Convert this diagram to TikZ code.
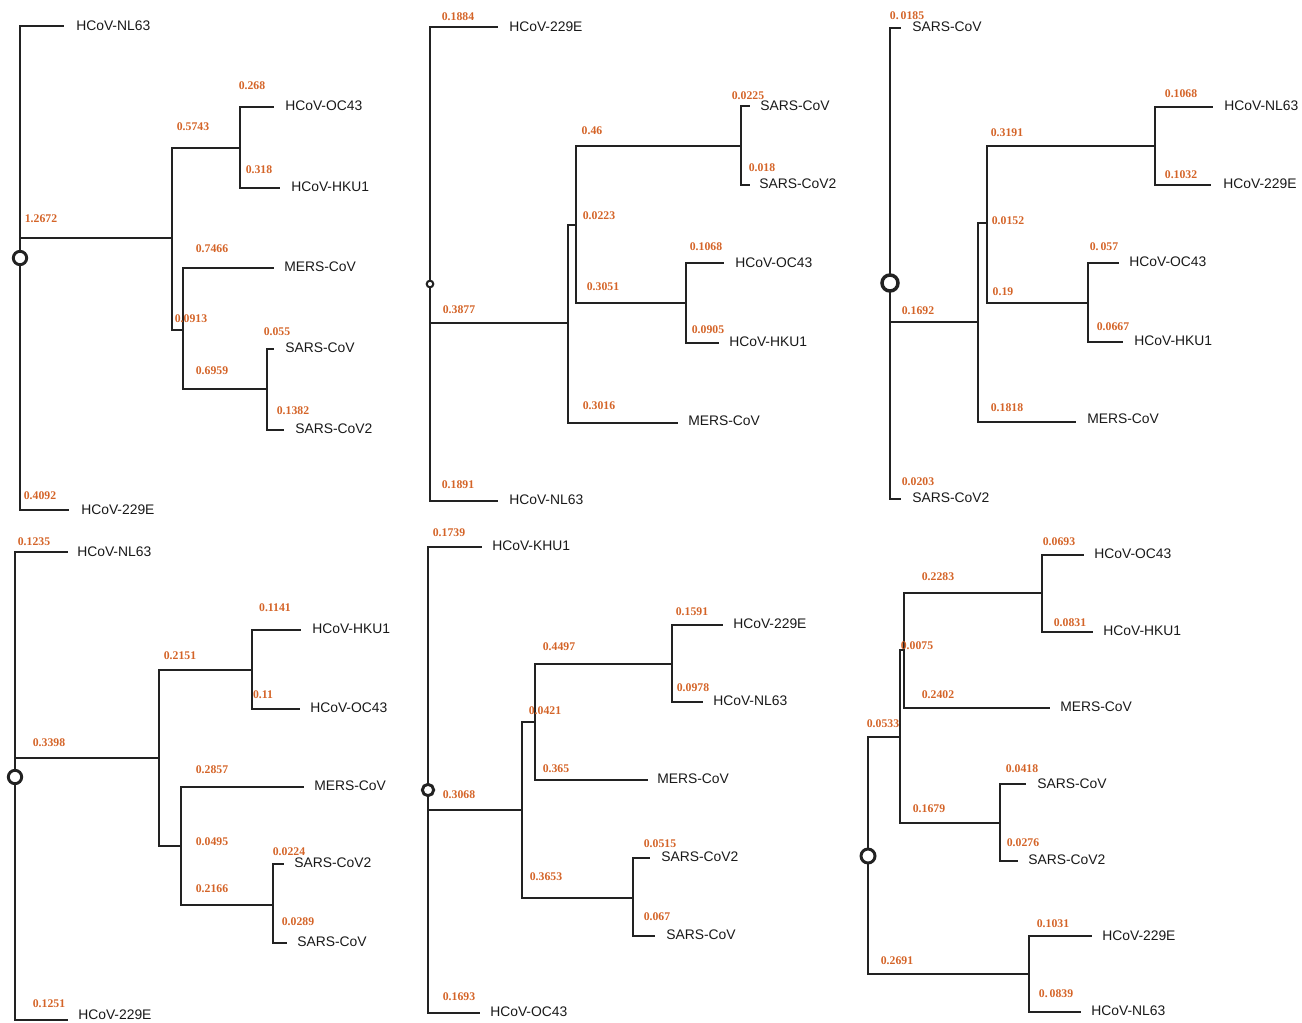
\documentclass[tikz,border=0pt]{standalone}
\usepackage{fontspec}
\newfontfamily\labfont{Liberation Sans}
\newfontfamily\numfont{Liberation Serif}
\definecolor{numc}{RGB}{212,100,40}
\definecolor{linec}{RGB}{34,34,34}
\begin{document}
\begin{tikzpicture}[x=0.75pt,y=-0.75pt,
  br/.style={draw=linec,line width=2.2pt,line cap=rect},
  tiplab/.style={anchor=west,inner sep=0pt,text=black!90,font=\labfont\fontsize{10.4}{12}\selectfont},
  num/.style={inner sep=0pt,text=numc,font=\numfont\bfseries\fontsize{8.8}{10}\selectfont},
  rootc/.style={draw=linec,fill=white,ellipse,inner sep=0pt,line width=2.2pt}]
\useasboundingbox (0,0) rectangle (1302,1023);
\pgfdeclareshape{ellipse}{\inheritsavedanchors[from=circle]\inheritanchorborder[from=circle]\inheritanchor[from=circle]{center}\inheritbackgroundpath[from=circle]}
% ================= Panel 1 =================
\coordinate (R1) at (20,258);
\coordinate (t1a) at (63,26);
\coordinate (t1b) at (68,510);
\coordinate (A1) at (172,238);
\coordinate (B1) at (240,148);
\coordinate (C1) at (183,330);
\coordinate (D1) at (267,389);
\coordinate (t1c) at (273,107);
\coordinate (t1d) at (279,188);
\coordinate (t1e) at (273,268);
\coordinate (t1f) at (273,349);
\coordinate (t1g) at (283,430);
\draw[br] (R1) |- (t1a);
\draw[br] (R1) |- (t1b);
\draw[br] (R1) |- (A1);
\draw[br] (A1) |- (B1);
\draw[br] (A1) |- (C1);
\draw[br] (B1) |- (t1c);
\draw[br] (B1) |- (t1d);
\draw[br] (C1) |- (t1e);
\draw[br] (C1) |- (D1);
\draw[br] (D1) |- (t1f);
\draw[br] (D1) |- (t1g);
\node[rootc,minimum size=10pt,circle] (c1) at (R1) {};
\node[tiplab] (l1a) at (76,26) {HCoV-NL63};
\node[tiplab] (l1b) at (81,510) {HCoV-229E};
\node[tiplab] (l1c) at (285,106) {HCoV-OC43};
\node[tiplab] (l1d) at (291,187) {HCoV-HKU1};
\node[tiplab] (l1e) at (284,267) {MERS-CoV};
\node[tiplab] (l1f) at (285,348) {SARS-CoV};
\node[tiplab] (l1g) at (295,429) {SARS-CoV2};
\node[num] (n1a) at (252,86) {0.268};
\node[num] (n1b) at (193,127) {0.5743};
\node[num] (n1c) at (259,170) {0.318};
\node[num] (n1d) at (41,219) {1.2672};
\node[num] (n1e) at (212,249) {0.7466};
\node[num] (n1f) at (191,319) {0.0913};
\node[num] (n1g) at (277,332) {0.055};
\node[num] (n1h) at (212,371) {0.6959};
\node[num] (n1i) at (293,411) {0.1382};
\node[num] (n1j) at (40,496) {0.4092};
% ================= Panel 2 =================
\coordinate (R2) at (430,284);
\coordinate (t2a) at (497,27);
\coordinate (t2b) at (497,501);
\coordinate (A2) at (568,323);
\coordinate (B2) at (576,225);
\coordinate (C2) at (741,146);
\coordinate (D2) at (686,303);
\coordinate (t2c) at (749,106);
\coordinate (t2d) at (749,185);
\coordinate (t2e) at (723,263);
\coordinate (t2f) at (718,343);
\coordinate (t2g) at (677,423);
\draw[br] (R2) |- (t2a);
\draw[br] (R2) |- (t2b);
\draw[br] (R2) |- (A2);
\draw[br] (A2) |- (B2);
\draw[br] (A2) |- (t2g);
\draw[br] (B2) |- (C2);
\draw[br] (B2) |- (D2);
\draw[br] (C2) |- (t2c);
\draw[br] (C2) |- (t2d);
\draw[br] (D2) |- (t2e);
\draw[br] (D2) |- (t2f);
\node[rootc,minimum size=5pt,circle,line width=1.5pt] (c2) at (R2) {};
\node[tiplab] (l2a) at (509,27) {HCoV-229E};
\node[tiplab] (l2b) at (509,500) {HCoV-NL63};
\node[tiplab] (l2c) at (760,106) {SARS-CoV};
\node[tiplab] (l2d) at (759,184) {SARS-CoV2};
\node[tiplab] (l2e) at (735,263) {HCoV-OC43};
\node[tiplab] (l2f) at (729,342) {HCoV-HKU1};
\node[tiplab] (l2g) at (688,421) {MERS-CoV};
\node[num] (n2a) at (458,17) {0.1884};
\node[num] (n2b) at (459,310) {0.3877};
\node[num] (n2c) at (592,131) {0.46};
\node[num] (n2d) at (748,96) {0.0225};
\node[num] (n2e) at (762,168) {0.018};
\node[num] (n2f) at (599,216) {0.0223};
\node[num] (n2g) at (603,287) {0.3051};
\node[num] (n2h) at (706,247) {0.1068};
\node[num] (n2i) at (708,330) {0.0905};
\node[num] (n2j) at (599,406) {0.3016};
\node[num] (n2k) at (458,485) {0.1891};
% ================= Panel 3 =================
\coordinate (R3) at (890,283);
\coordinate (t3a) at (900,28);
\coordinate (t3b) at (900,499);
\coordinate (A3) at (978,322);
\coordinate (B3) at (987,223);
\coordinate (C3) at (1155,146);
\coordinate (D3) at (1088,303);
\coordinate (t3c) at (1212,107);
\coordinate (t3d) at (1210,185);
\coordinate (t3e) at (1118,263);
\coordinate (t3f) at (1122,342);
\coordinate (t3g) at (1075,422);
\draw[br] (R3) |- (t3a);
\draw[br] (R3) |- (t3b);
\draw[br] (R3) |- (A3);
\draw[br] (A3) |- (B3);
\draw[br] (A3) |- (t3g);
\draw[br] (B3) |- (C3);
\draw[br] (B3) |- (D3);
\draw[br] (C3) |- (t3c);
\draw[br] (C3) |- (t3d);
\draw[br] (D3) |- (t3e);
\draw[br] (D3) |- (t3f);
\node[rootc,minimum width=12pt,minimum height=9.5pt,line width=2.6pt] (c3) at (R3) {};
\node[tiplab] (l3a) at (912,27) {SARS-CoV};
\node[tiplab] (l3b) at (912,498) {SARS-CoV2};
\node[tiplab] (l3c) at (1224,106) {HCoV-NL63};
\node[tiplab] (l3d) at (1223,184) {HCoV-229E};
\node[tiplab] (l3e) at (1129,262) {HCoV-OC43};
\node[tiplab] (l3f) at (1134,341) {HCoV-HKU1};
\node[tiplab] (l3g) at (1087,419) {MERS-CoV};
\node[num] (n3a) at (907,16) {0.\,0185};
\node[num] (n3b) at (918,311) {0.1692};
\node[num] (n3c) at (1007,133) {0.3191};
\node[num] (n3d) at (1181,94) {0.1068};
\node[num] (n3e) at (1181,175) {0.1032};
\node[num] (n3f) at (1008,221) {0.0152};
\node[num] (n3g) at (1003,292) {0.19};
\node[num] (n3h) at (1104,247) {0.\,057};
\node[num] (n3i) at (1113,327) {0.0667};
\node[num] (n3j) at (1007,408) {0.1818};
\node[num] (n3k) at (918,482) {0.0203};
% ================= Panel 4 =================
\coordinate (R4) at (15,777);
\coordinate (t4a) at (67,552);
\coordinate (t4b) at (67,1020);
\coordinate (A4) at (159,758);
\coordinate (B4) at (252,670);
\coordinate (C4) at (181,846);
\coordinate (D4) at (273,905);
\coordinate (t4c) at (300,630);
\coordinate (t4d) at (299,709);
\coordinate (t4e) at (303,787);
\coordinate (t4f) at (283,864);
\coordinate (t4g) at (286,943);
\draw[br] (R4) |- (t4a);
\draw[br] (R4) |- (t4b);
\draw[br] (R4) |- (A4);
\draw[br] (A4) |- (B4);
\draw[br] (A4) |- (C4);
\draw[br] (B4) |- (t4c);
\draw[br] (B4) |- (t4d);
\draw[br] (C4) |- (t4e);
\draw[br] (C4) |- (D4);
\draw[br] (D4) |- (t4f);
\draw[br] (D4) |- (t4g);
\node[rootc,minimum size=10pt,circle] (c4) at (R4) {};
\node[tiplab] (l4a) at (77,552) {HCoV-NL63};
\node[tiplab] (l4b) at (78,1015) {HCoV-229E};
\node[tiplab] (l4c) at (312,629) {HCoV-HKU1};
\node[tiplab] (l4d) at (310,708) {HCoV-OC43};
\node[tiplab] (l4e) at (314,786) {MERS-CoV};
\node[tiplab] (l4f) at (294,863) {SARS-CoV2};
\node[tiplab] (l4g) at (297,942) {SARS-CoV};
\node[num] (n4a) at (34,542) {0.1235};
\node[num] (n4b) at (275,608) {0.1141};
\node[num] (n4c) at (180,656) {0.2151};
\node[num] (n4d) at (263,695) {0.11};
\node[num] (n4e) at (49,743) {0.3398};
\node[num] (n4f) at (212,770) {0.2857};
\node[num] (n4g) at (212,842) {0.0495};
\node[num] (n4h) at (289,852) {0.0224};
\node[num] (n4i) at (212,889) {0.2166};
\node[num] (n4j) at (298,922) {0.0289};
\node[num] (n4k) at (49,1004) {0.1251};
% ================= Panel 5 =================
\coordinate (R5) at (428,790);
\coordinate (t5a) at (481,547);
\coordinate (t5b) at (479,1013);
\coordinate (A5) at (522,810);
\coordinate (B5) at (535,722);
\coordinate (E5) at (672,664);
\coordinate (C5) at (633,898);
\coordinate (t5c) at (722,625);
\coordinate (t5d) at (702,702);
\coordinate (t5e) at (647,780);
\coordinate (t5f) at (649,858);
\coordinate (t5g) at (654,936);
\draw[br] (R5) |- (t5a);
\draw[br] (R5) |- (t5b);
\draw[br] (R5) |- (A5);
\draw[br] (A5) |- (B5);
\draw[br] (A5) |- (C5);
\draw[br] (B5) |- (E5);
\draw[br] (B5) |- (t5e);
\draw[br] (E5) |- (t5c);
\draw[br] (E5) |- (t5d);
\draw[br] (C5) |- (t5f);
\draw[br] (C5) |- (t5g);
\node[rootc,minimum size=8.5pt,circle] (c5) at (R5) {};
\node[tiplab] (l5a) at (492,546) {HCoV-KHU1};
\node[tiplab] (l5b) at (490,1012) {HCoV-OC43};
\node[tiplab] (l5c) at (733,624) {HCoV-229E};
\node[tiplab] (l5d) at (713,701) {HCoV-NL63};
\node[tiplab] (l5e) at (657,779) {MERS-CoV};
\node[tiplab] (l5f) at (661,857) {SARS-CoV2};
\node[tiplab] (l5g) at (666,935) {SARS-CoV};
\node[num] (n5a) at (449,533) {0.1739};
\node[num] (n5b) at (692,612) {0.1591};
\node[num] (n5c) at (559,647) {0.4497};
\node[num] (n5d) at (693,688) {0.0978};
\node[num] (n5e) at (545,711) {0.0421};
\node[num] (n5f) at (556,769) {0.365};
\node[num] (n5g) at (459,795) {0.3068};
\node[num] (n5h) at (660,844) {0.0515};
\node[num] (n5i) at (546,877) {0.3653};
\node[num] (n5j) at (657,917) {0.067};
\node[num] (n5k) at (459,997) {0.1693};
% ================= Panel 6 =================
\coordinate (R6) at (868,856);
\coordinate (A6) at (900,737);
\coordinate (B6) at (904,650);
\coordinate (E6) at (1042,593);
\coordinate (C6) at (1000,823);
\coordinate (F6) at (1029,974);
\coordinate (t6a) at (1083,555);
\coordinate (t6b) at (1092,632);
\coordinate (t6c) at (1049,708);
\coordinate (t6d) at (1025,784);
\coordinate (t6e) at (1017,861);
\coordinate (t6f) at (1091,936);
\coordinate (t6g) at (1080,1012);
\draw[br] (R6) |- (A6);
\draw[br] (R6) |- (F6);
\draw[br] (A6) |- (B6);
\draw[br] (A6) |- (C6);
\draw[br] (B6) |- (E6);
\draw[br] (B6) |- (t6c);
\draw[br] (E6) |- (t6a);
\draw[br] (E6) |- (t6b);
\draw[br] (C6) |- (t6d);
\draw[br] (C6) |- (t6e);
\draw[br] (F6) |- (t6f);
\draw[br] (F6) |- (t6g);
\node[rootc,minimum width=10.5pt,minimum height=9pt] (c6) at (R6) {};
\node[tiplab] (l6a) at (1094,554) {HCoV-OC43};
\node[tiplab] (l6b) at (1103,631) {HCoV-HKU1};
\node[tiplab] (l6c) at (1060,707) {MERS-CoV};
\node[tiplab] (l6d) at (1037,784) {SARS-CoV};
\node[tiplab] (l6e) at (1028,860) {SARS-CoV2};
\node[tiplab] (l6f) at (1102,936) {HCoV-229E};
\node[tiplab] (l6g) at (1091,1011) {HCoV-NL63};
\node[num] (n6a) at (1059,542) {0.0693};
\node[num] (n6b) at (938,577) {0.2283};
\node[num] (n6c) at (1070,623) {0.0831};
\node[num] (n6d) at (917,646) {0.0075};
\node[num] (n6e) at (938,695) {0.2402};
\node[num] (n6f) at (883,724) {0.0533};
\node[num] (n6g) at (1022,769) {0.0418};
\node[num] (n6h) at (929,809) {0.1679};
\node[num] (n6i) at (1023,843) {0.0276};
\node[num] (n6j) at (897,961) {0.2691};
\node[num] (n6k) at (1053,924) {0.1031};
\node[num] (n6l) at (1056,994) {0.\,0839};
\end{tikzpicture}
\end{document}
